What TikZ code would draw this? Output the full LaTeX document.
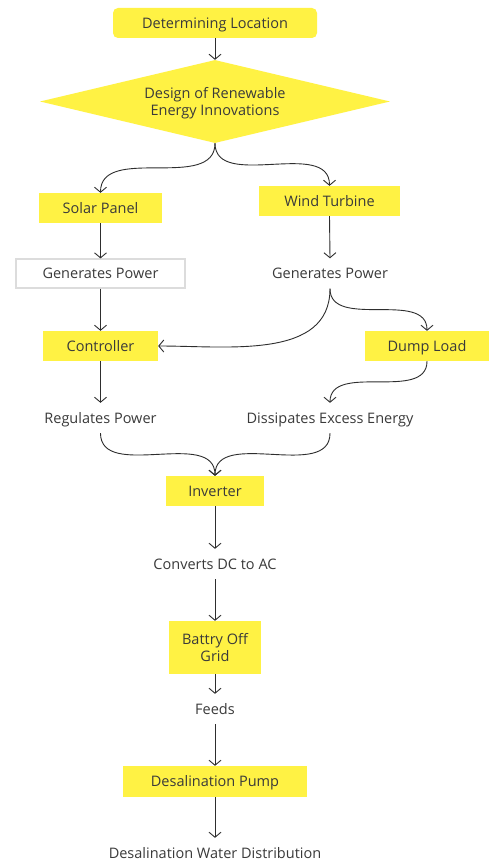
\documentclass[tikz,border=0pt]{standalone}
\usepackage{fontspec}
\setmainfont{Open Sans}
\usetikzlibrary{shapes.geometric,arrows.meta}
\definecolor{ylw}{HTML}{FFF244}
\definecolor{txt}{HTML}{3A3A3A}
\definecolor{ln}{HTML}{2E2E2E}
\definecolor{gbox}{HTML}{DCDCDC}
\newcommand{\twol}[2]{\begin{tabular}{@{}c@{}}#1\\#2\end{tabular}}
\tikzset{
  ybox/.style={fill=ylw, draw=none, text=txt, inner sep=0pt, font=\fontsize{14.5}{17}\selectfont, text height=12pt, text depth=1.6pt},
  ybox2/.style={ybox, text height=25.4pt, text depth=14.6pt},
  plain/.style={text=txt, inner sep=0pt, font=\fontsize{14.5}{17}\selectfont, minimum height=30pt, text height=12pt, text depth=1.6pt},
  conn/.style={draw=ln, line width=0.9pt, -{Straight Barb[length=5pt,width=12pt]}},
}
\begin{document}
\begin{tikzpicture}[x=1pt,y=-1pt]
\useasboundingbox[fill=white] (0,0) rectangle (489,861);
\node[ybox, rounded corners=5pt, minimum width=204pt, minimum height=30pt] (loc) at (215,23) {Determining Location};
\node[ybox2, diamond, aspect=4.2, minimum width=350pt, minimum height=83pt] (des) at (215,101.5) {\twol{Design of Renewable}{Energy Innovations}};
\node[ybox, minimum width=123pt, minimum height=30pt] (sol) at (100.5,208) {Solar Panel};
\node[ybox, minimum width=141pt, minimum height=30pt] (wind) at (329.5,201) {Wind Turbine};
\node[plain, draw=gbox, line width=1.2pt, minimum width=169pt, minimum height=29pt] (gp1) at (100.5,273.5) {Generates Power};
\node[plain] (gp2) at (330,273.5) {Generates Power};
\node[ybox, minimum width=115pt, minimum height=30pt] (ctl) at (100.5,346) {Controller};
\node[ybox, minimum width=124pt, minimum height=30pt] (dump) at (427,346) {Dump Load};
\node[plain] (reg) at (100.5,418) {Regulates Power};
\node[plain] (dis) at (330,418) {Dissipates Excess Energy};
\node[ybox, minimum width=98pt, minimum height=30pt] (inv) at (215,491) {Inverter};
\node[plain] (conv) at (215,564) {Converts DC to AC};
\node[ybox2, minimum width=92pt, minimum height=53pt] (bat) at (215,647.5) {\twol{Battry Off}{Grid}};
\node[plain] (feed) at (215,709) {Feeds};
\node[ybox, minimum width=184pt, minimum height=31pt] (pump) at (215,781.5) {Desalination Pump};
\node[plain] (dist) at (215,853) {Desalination Water Distribution};

\draw[conn] (loc.south) -- (des.north);
\draw[conn] (des.south) to[out=-90,in=90] (sol.north);
\draw[conn] (des.south) to[out=-90,in=90] (wind.north);
\draw[conn] (sol.south) -- (gp1.north);
\draw[conn] (wind.south) -- (gp2.north);
\draw[conn] (gp1.south) -- (ctl.north);
\draw[conn] (gp2.south) to[out=-90,in=0] (ctl.east);
\draw[conn] (gp2.south) to[out=-90,in=90] (dump.north);
\draw[conn] (ctl.south) -- (reg.north);
\draw[conn] (dump.south) to[out=-90,in=90] (dis.north);
\draw[conn] (reg.south) to[out=-90,in=90] (inv.north);
\draw[conn] (dis.south) to[out=-90,in=90] (inv.north);
\draw[conn] (inv.south) -- (conv.north);
\draw[conn] (conv.south) -- (bat.north);
\draw[conn] (bat.south) -- (feed.north);
\draw[conn] (feed.south) -- (pump.north);
\draw[conn] (pump.south) -- (dist.north);
\end{tikzpicture}
\end{document}
